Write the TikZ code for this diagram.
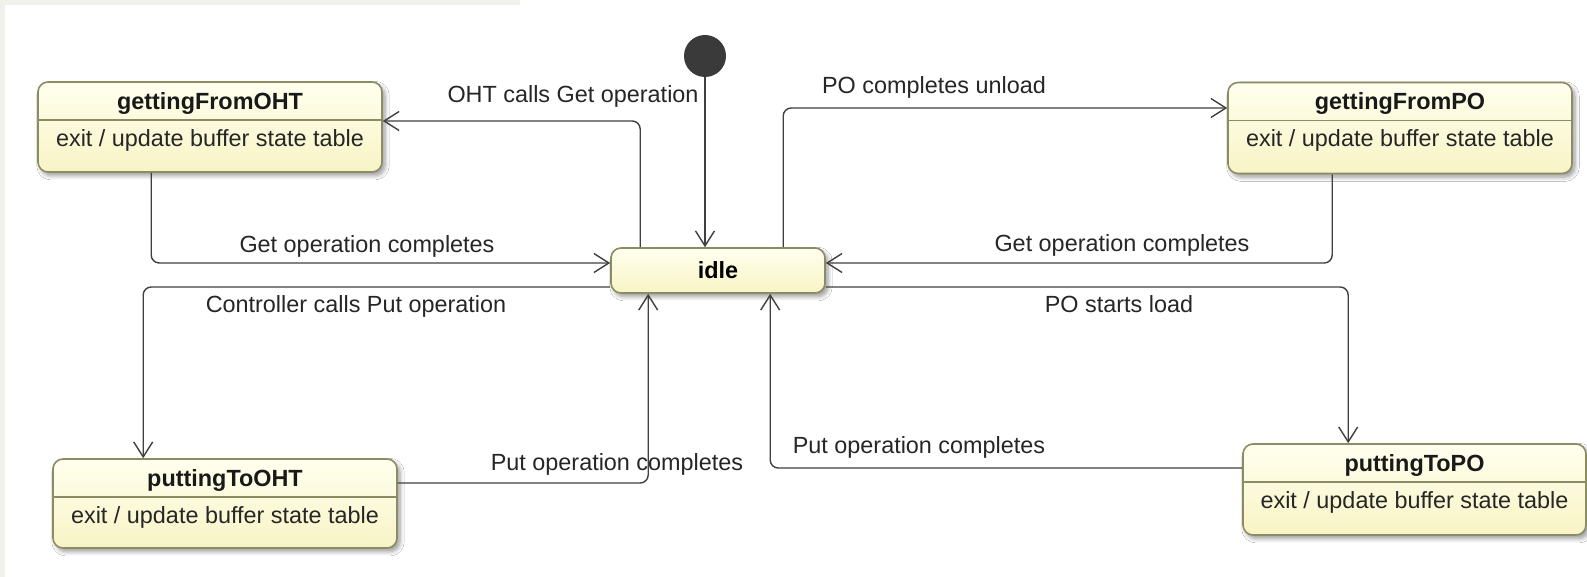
\documentclass[tikz,border=0pt]{standalone}
\usepackage{fontspec}
\setmainfont{Liberation Sans}
\usetikzlibrary{arrows.meta,calc,shadows.blur}
\definecolor{edge}{HTML}{404040}
\definecolor{stateline}{HTML}{8C8C64}
\definecolor{fillhi}{HTML}{FFFFEE}
\definecolor{filllo}{HTML}{F8F4C6}
\definecolor{framegray}{HTML}{F1F1EC}
\definecolor{initc}{HTML}{3A3A3A}
\begin{document}
\begin{tikzpicture}[x=0.5pt,y=-0.5pt,
  font=\fontsize{11.7}{14}\selectfont,
  state/.style={draw=stateline, line width=0.8pt, rounded corners=5pt, inner sep=0pt,
    top color=fillhi, bottom color=filllo,
    blur shadow={shadow xshift=1.5pt, shadow yshift=-1.8pt, shadow blur steps=6, shadow opacity=40}},
  title/.style={font=\fontsize{11.7}{14}\selectfont\bfseries, anchor=base, inner sep=0pt, text=black!90},
  body/.style={anchor=base, inner sep=0pt, text=black!85},
  lbl/.style={anchor=base, inner sep=0pt, text=black!85},
  tr/.style={draw=edge, line width=0.7pt, rounded corners=4pt,
    -{Straight Barb[length=7.5pt,width=9.5pt,line width=0.7pt]}},
]
% canvas and thin frame strips
\fill[white] (0,0) rectangle (1587,577);
\fill[framegray] (0,0) rectangle (5,577);
\fill[framegray] (0,0) rectangle (520,5);
\useasboundingbox (0,0) rectangle (1587,577);

% states
\node[state, minimum width=172pt, minimum height=45pt] (gfoht) at (210,127) {};
\node[state, minimum width=172pt, minimum height=45.5pt] (gfpo) at (1400,128) {};
\node[state, minimum width=172pt, minimum height=44.5pt] (ptoht) at (225,503.5) {};
\node[state, minimum width=171.5pt, minimum height=45.5pt] (ptpo) at (1414.5,489.5) {};
\node[state, minimum width=107pt, minimum height=22.5pt, font=\fontsize{11.7}{14}\selectfont\bfseries] (idle) at (718,270.5) {idle};
\node[circle, fill=initc, minimum size=21pt, inner sep=0pt] (init) at (705,56) {};

% compartments: name and exit action
\foreach \n/\t in {gfoht/gettingFromOHT, gfpo/gettingFromPO, ptoht/puttingToOHT, ptpo/puttingToPO} {
  \draw[stateline, line width=0.8pt] ($(\n.north west)+(0,39)$) -- ($(\n.north east)+(0,39)$);
  \node[title] (\n-name) at ($(\n.north)+(0,28)$) {\t};
  \node[body] (\n-act) at ($(\n.north)+(0,65)$) {exit / update buffer state table};
}

% transitions
\draw[tr] (init) -- (init |- idle.north);
\draw[tr] ($(idle.north west)+(30,0)$) |- ($(gfoht.east)+(0,-6)$);
\draw[tr] ($(gfoht.south west)+(114,0)$) |- ($(idle.west)+(0,-7.5)$);
\draw[tr] ($(idle.west)+(0,16.5)$) -| ($(ptoht.north west)+(91,0)$);
\draw[tr] ($(ptoht.east)+(0,-20.5)$) -| ($(idle.south west)+(38,0)$);
\draw[tr] ($(idle.north west)+(173,0)$) |- ($(gfpo.west)+(0,-20)$);
\draw[tr] ($(gfpo.south west)+(105,0)$) |- ($(idle.east)+(0,-7.5)$);
\draw[tr] ($(idle.east)+(0,16.5)$) -| ($(ptpo.north west)+(106,0)$);
\draw[tr] ($(ptpo.west)+(0,-21.5)$) -| ($(idle.south west)+(160,0)$);

% transition labels
\node[lbl] (l1) at (573,103) {OHT calls Get operation};
\node[lbl] (l2) at (367,253) {Get operation completes};
\node[lbl] (l3) at (356,313) {Controller calls Put operation};
\node[lbl] (l4) at (617,471) {Put operation completes};
\node[lbl] (l5) at (934,94) {PO completes unload};
\node[lbl] (l6) at (1122,252) {Get operation completes};
\node[lbl] (l7) at (1119,313) {PO starts load};
\node[lbl] (l8) at (919,454) {Put operation completes};
\end{tikzpicture}
\end{document}
